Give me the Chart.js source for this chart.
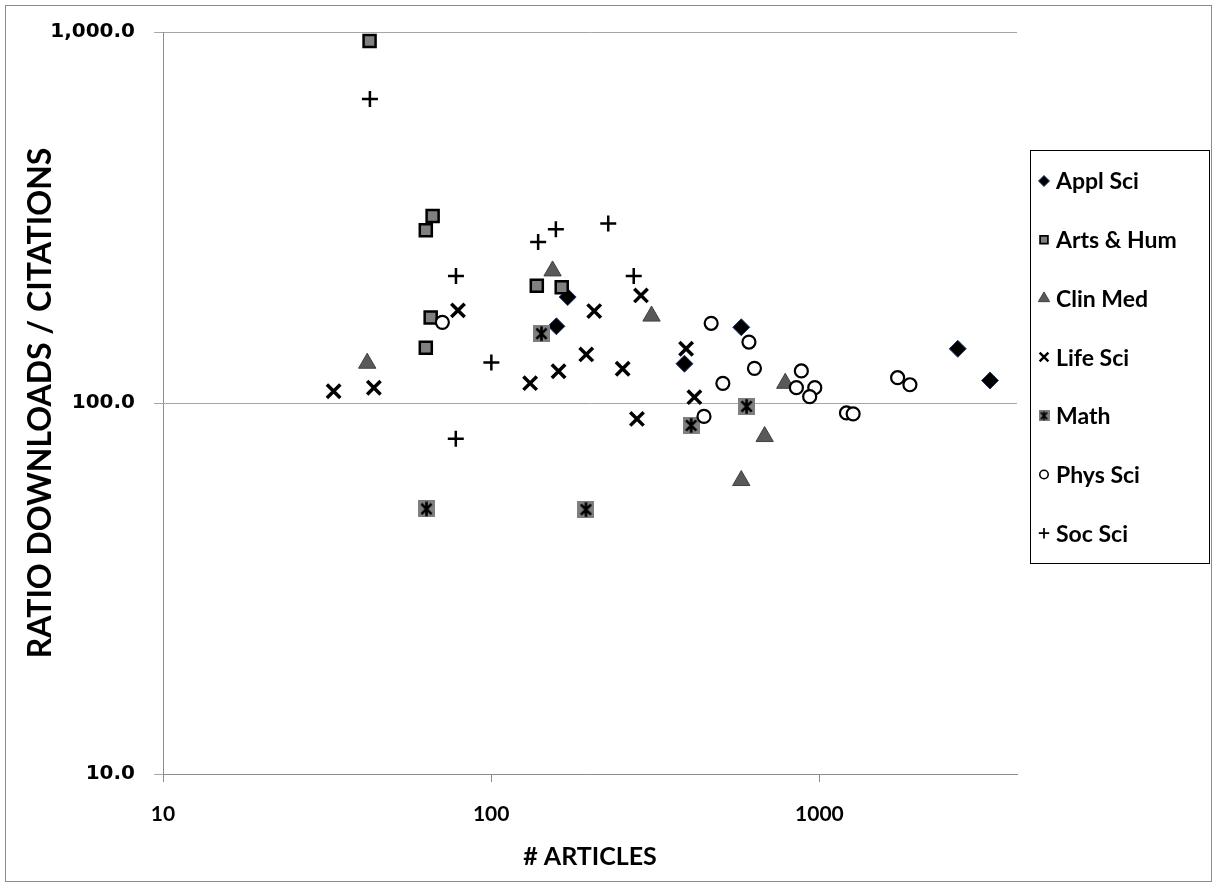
<!DOCTYPE html>
<html>
<head>
<meta charset="utf-8">
<script src="https://cdn.jsdelivr.net/npm/chart.js@4"></script>
<style>
  body { margin: 0; background: #fff; }
  #wrap { width: 1215px; height: 886px; }
</style>
</head>
<body>
<div id="wrap"><canvas id="scatterChart" width="1215" height="886"></canvas></div>
<script>
// values (x = # articles, y = downloads / citations)
const applSciX = [171, 158, 578, 388, 2640, 3310];
const applSciY = [193, 161, 160, 127.6, 140, 115];

const artsHumX = [42.6, 66.3, 63.2, 65.4, 63.2, 137.7, 164];
const artsHumY = [946, 319, 292, 170, 141, 207, 205];

const clinMedX = [41.9, 153.8, 308, 681, 578, 787];
const clinMedY = [128, 227, 171.5, 81.2, 61.8, 113];

const lifeSciX = [33.1, 43.9, 79.2, 131.4, 160.4, 194.8, 206, 286, 251.5, 278, 392.5, 416];
const lifeSciY = [107.6, 109.9, 177.7, 113.1, 121.8, 135.2, 176.9, 195, 123.7, 90.6, 140.1, 103.7];

const mathX = [63.5, 142.3, 194.4, 406.6, 600];
const mathY = [51.8, 153.8, 51.6, 87, 97.9];

const physSciX = [71, 468, 610, 634, 508, 445, 881, 851, 968, 934, 1209, 1267, 1731, 1887];
const physSciY = [165, 164, 146, 124, 113, 92, 122, 110, 110, 104, 94, 93.5, 117, 112];

const socSciX = [42.7, 78.1, 139, 157.4, 227.3, 271.8, 100.1, 78];
const socSciY = [659.5, 219.9, 271.6, 293.9, 304.5, 219.9, 128.6, 80.1];

const xTicks = [10, 100, 1000];
const yTicks = [10, 100, 1000];

function toPoints(xs, ys) {
    return xs.map((x, i) => ({ x: x, y: ys[i] }));
}

// gray square with an asterisk, used for the Math series
function makeMathMarker(size) {
    const c = document.createElement('canvas');
    c.width = size;
    c.height = size;
    const g = c.getContext('2d');
    g.fillStyle = '#7f7f7f';
    g.fillRect(0, 0, size, size);
    g.strokeStyle = '#000';
    g.lineWidth = size / 6.5;
    const a = size * 0.2, b = size * 0.8;
    g.beginPath();
    g.moveTo(a, a); g.lineTo(b, b);
    g.moveTo(b, a); g.lineTo(a, b);
    g.moveTo(size / 2, size * 0.08); g.lineTo(size / 2, size * 0.92);
    g.stroke();
    return c;
}

const mathMarker = makeMathMarker(17);
const mathMarkerSmall = makeMathMarker(11);

const datasets = [{
    label: 'Appl Sci',
    data: toPoints(applSciX, applSciY),
    pointStyle: 'rectRot',
    pointRadius: 8.5,
    pointBackgroundColor: '#000000',
    pointBorderColor: '#1f3b6e',
    pointBorderWidth: 1,
    order: 7
}, {
    label: 'Arts & Hum',
    data: toPoints(artsHumX, artsHumY),
    pointStyle: 'rect',
    pointRadius: 8.5,
    pointBackgroundColor: '#808080',
    pointBorderColor: '#000000',
    pointBorderWidth: 2.5,
    order: 6
}, {
    label: 'Clin Med',
    data: toPoints(clinMedX, clinMedY),
    pointStyle: 'triangle',
    pointRadius: 10,
    pointBackgroundColor: '#595959',
    pointBorderColor: '#404040',
    pointBorderWidth: 1,
    order: 5
}, {
    label: 'Life Sci',
    data: toPoints(lifeSciX, lifeSciY),
    pointStyle: 'crossRot',
    pointRadius: 9.5,
    pointBackgroundColor: '#000000',
    pointBorderColor: '#000000',
    pointBorderWidth: 3.5,
    order: 4
}, {
    label: 'Math',
    data: toPoints(mathX, mathY),
    pointStyle: mathMarker,
    pointRadius: 8,
    pointBackgroundColor: '#7f7f7f',
    pointBorderColor: '#000000',
    pointBorderWidth: 0,
    order: 3
}, {
    label: 'Phys Sci',
    data: toPoints(physSciX, physSciY),
    pointStyle: 'circle',
    pointRadius: 6.5,
    pointBackgroundColor: '#ffffff',
    pointBorderColor: '#000000',
    pointBorderWidth: 2.2,
    order: 2
}, {
    label: 'Soc Sci',
    data: toPoints(socSciX, socSciY),
    pointStyle: 'cross',
    pointRadius: 8,
    pointBackgroundColor: '#000000',
    pointBorderColor: '#000000',
    pointBorderWidth: 2.5,
    order: 1
}];

// outer frame + boxed legend on the right
const frameAndLegend = {
    id: 'frameAndLegend',
    afterDraw(chart) {
        const ctx = chart.ctx;
        ctx.save();
        ctx.strokeStyle = '#8c8c8c';
        ctx.lineWidth = 1;
        ctx.strokeRect(5.5, 5.5, 1206, 876);

        ctx.strokeStyle = '#000000';
        ctx.strokeRect(1030.5, 150.5, 179, 413);

        ctx.font = 'bold 23px Lato, "Open Sans", sans-serif';
        ctx.textBaseline = 'middle';
        ctx.fillStyle = '#000000';
        chart.data.datasets.forEach((ds, i) => {
            const y = 181 + i * 58.7;
            const x = 1044;
            if (ds.label === 'Math') {
                ctx.drawImage(mathMarkerSmall, x - 5.5, y - 5.5);
            } else {
                ctx.fillStyle = ds.pointBackgroundColor;
                ctx.strokeStyle = ds.pointBorderColor;
                ctx.lineWidth = Math.max(ds.pointBorderWidth * 0.7, 1);
                Chart.helpers.drawPoint(ctx, {
                    pointStyle: ds.pointStyle,
                    radius: ds.pointRadius * 0.65,
                    rotation: 0,
                    borderWidth: ctx.lineWidth
                }, x, y);
            }
            ctx.fillStyle = '#000000';
            ctx.fillText(ds.label, 1056, y + 1);
        });
        ctx.restore();
    }
};

const ctx = document.getElementById('scatterChart').getContext('2d');
new Chart(ctx, {
    type: 'scatter',
    data: { datasets: datasets },
    plugins: [frameAndLegend],
    options: {
        responsive: false,
        animation: false,
        layout: {
            padding: { top: 32, right: 198, bottom: 0, left: 0 }
        },
        plugins: {
            legend: { display: false },
            tooltip: { enabled: false }
        },
        scales: {
            x: {
                type: 'logarithmic',
                min: 10,
                max: 4000,
                afterBuildTicks: (scale) => { scale.ticks = xTicks.map(v => ({ value: v })); },
                afterFit: (scale) => { scale.height = 112; },
                border: { display: true, color: '#8c8c8c', width: 1 },
                grid: {
                    drawOnChartArea: false,
                    drawTicks: true,
                    tickLength: 8,
                    color: '#8c8c8c'
                },
                ticks: {
                    padding: 20,
                    color: '#000000',
                    font: { family: 'Lato, "Open Sans", sans-serif', size: 21, weight: 'bold' },
                    maxRotation: 0,
                    callback: (v) => String(v)
                },
                title: {
                    display: true,
                    text: '# ARTICLES',
                    color: '#000000',
                    font: { family: 'Lato, "Open Sans", sans-serif', size: 25, weight: 'bold' },
                    padding: { top: 0, bottom: 14 }
                }
            },
            y: {
                type: 'logarithmic',
                min: 10,
                max: 1000,
                afterBuildTicks: (scale) => { scale.ticks = yTicks.map(v => ({ value: v })); },
                afterFit: (scale) => { scale.width = 163; },
                border: { display: true, color: '#8c8c8c', width: 1 },
                grid: {
                    drawOnChartArea: true,
                    drawTicks: true,
                    tickLength: 9,
                    color: '#a6a6a6'
                },
                ticks: {
                    padding: 19,
                    color: '#000000',
                    font: { family: '"DejaVu Sans", Verdana, sans-serif', size: 20, weight: 'bold' },
                    callback: (v) => Number(v).toLocaleString('en-US', { minimumFractionDigits: 1, maximumFractionDigits: 1 })
                },
                title: {
                    display: true,
                    text: 'RATIO DOWNLOADS / CITATIONS',
                    color: '#000000',
                    font: { family: 'Lato, "Open Sans", sans-serif', size: 32, weight: 'bold' },
                    padding: { top: 21, bottom: 0 }
                }
            }
        }
    }
});
</script>
</body>
</html>
